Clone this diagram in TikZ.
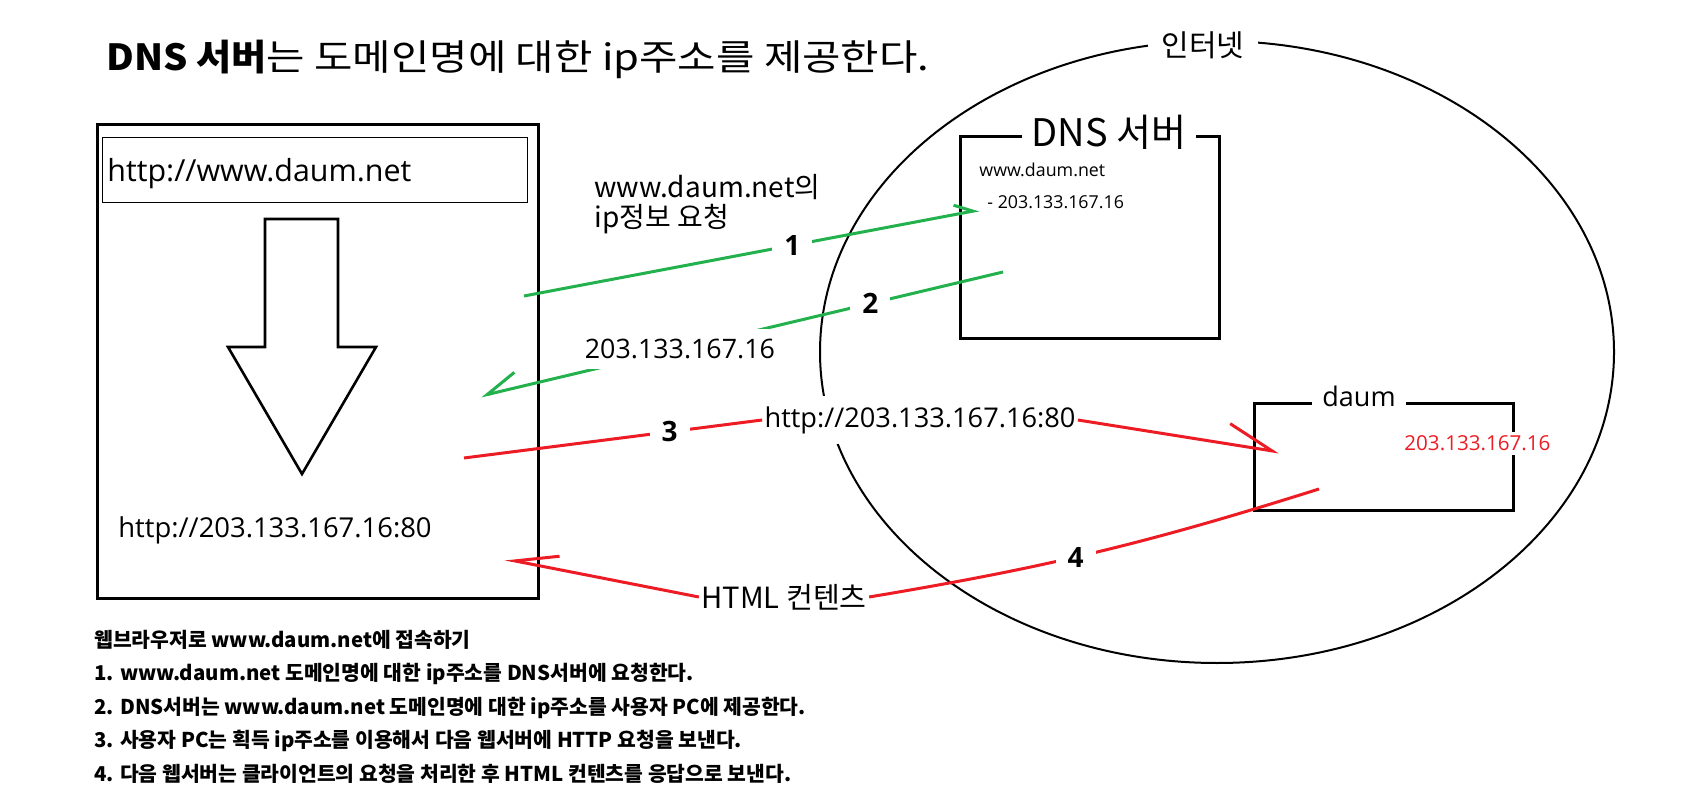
\documentclass[tikz,border=0pt]{standalone}
\usepackage{fontspec}
\setmainfont{Noto Sans CJK KR}
\newfontfamily\latin{Open Sans}
\usetikzlibrary{arrows.meta, positioning, shapes.geometric}
\definecolor{pgreen}{RGB}{34,177,76}
\definecolor{pred}{RGB}{237,28,36}
\begin{document}
\begin{tikzpicture}[x=0.5pt, y=-0.5pt,
  frame/.style={draw, line width=1.5pt, inner sep=0pt, anchor=north west},
  gap/.style={fill=white, inner xsep=5pt, inner ysep=1pt},
  txt/.style={anchor=base west, inner sep=0pt},
  num/.style={fill=white, inner xsep=6pt, inner ysep=1pt, font=\latin\bfseries\fontsize{14}{14}\selectfont},
  note/.style={anchor=base west, inner sep=0pt, font=\bfseries\fontsize{10.2}{12}\selectfont},
  gline/.style={draw=pgreen, line width=1.5pt},
  rline/.style={draw=pred, line width=1.5pt}]
\useasboundingbox (0,0) rectangle (1691,812);
\node[txt, font=\fontsize{18}{18}\selectfont] (title) at (106,71) {\textbf{\addfontfeature{FakeStretch=1.06}DNS 서버}{\addfontfeature{FakeStretch=1.16}는 도메인명에 대한 ip주소를 제공한다.}};
\node[frame, minimum width=220.5pt, minimum height=237pt] (browser) at (96,123) {};
\node[frame, line width=0.5pt, minimum width=212.5pt, minimum height=32.5pt] (urlbar) at (102,137) {};
\node[txt, font=\latin\fontsize{15.2}{15.2}\selectfont] (url) at (107,182) {http://www.daum.net};
\draw[line width=1.3pt] (265,219) -- (338,219) -- (338,347) -- (376,347) -- (302,474) -- (228,347) -- (265,347) -- cycle;
\node[txt, font=\latin\fontsize{13.7}{13.7}\selectfont] (ipurl) at (118,537) {http://203.133.167.16:80};
\node[draw, ellipse, line width=1pt, inner sep=0pt, minimum width=397pt, minimum height=311pt] (net) at (1217,352) {};
\node[gap, inner xsep=7pt, font=\fontsize{15}{15}\selectfont] (netlbl) at (1203,45) {인터넷};
\node[frame, minimum width=129.5pt, minimum height=101pt] (dns) at (959,135) {};
\node[gap, anchor=base, font=\fontsize{19}{19}\selectfont] (dnslbl) at (1109,147) {DNS 서버};
\node[txt, font=\latin\fontsize{8.9}{8.9}\selectfont] (dnsname) at (979,177) {www.daum.net};
\node[txt, font=\latin\fontsize{8.9}{8.9}\selectfont] (dnsip) at (987,209) {- 203.133.167.16};
\node[frame, minimum width=129.5pt, minimum height=53.5pt] (daum) at (1253,402) {};
\node[gap, anchor=base, font=\latin\fontsize{13.5}{13.5}\selectfont] (daumlbl) at (1359,407) {daum};
\node[txt, fill=white, inner ysep=2pt, text=pred, font=\latin\fontsize{10.3}{10.3}\selectfont] (daumip) at (1404,451) {203.133.167.16};
\node[txt, font=\fontsize{14}{14}\selectfont] (ask1) at (594,198) {www.daum.net의};
\node[txt, below=15pt of ask1.base west, anchor=base west, font=\fontsize{14}{14}\selectfont] (ask2) {ip정보 요청};
\coordinate (q1) at (524,296);
\coordinate (a1) at (979,210);
\draw[gline, -{Straight Barb[left, length=9pt, width=9.4pt]}] (q1) -- node[num, pos=0.59] (n1) {1} (a1);
\coordinate (q2) at (1003,272);
\coordinate (a2) at (481,396);
\draw[gline, -{Straight Barb[right, length=15.7pt, width=15.3pt]}] (q2) -- node[num, pos=0.254] (n2) {2} node[pos=0.619, fill=white, inner xsep=2pt, inner ysep=5pt, font=\latin\fontsize{13.4}{13.4}\selectfont] (ans) {203.133.167.16} (a2);
\node[fill=white, inner xsep=1pt, inner ysep=5pt, font=\latin\fontsize{13.6}{13.6}\selectfont] (req) at (920,420) {http://203.133.167.16:80};
\coordinate (q3) at (464,458);
\coordinate (a3) at (1279,452);
\draw[rline] (q3) -- node[num, pos=0.69] (n3) {3} (req.west);
\draw[rline, -{Straight Barb[left, length=22.8pt, width=20.3pt]}] (req.east) -- (a3);
\node[fill=white, inner xsep=1pt, inner ysep=2pt, font=\fontsize{14.6}{14.6}\selectfont] (html) at (784,597) {HTML 컨텐츠};
\coordinate (q4) at (1319,489);
\coordinate (a4) at (505,559);
\draw[rline] (q4) to[bend left=4] node[num, pos=0.55] (n4) {4} (html.east);
\draw[rline, -{Straight Barb[right, length=21.5pt, width=13.2pt]}] (html.west) -- (a4);
\node[note] (ln0) at (94,647) {웹브라우저로 www.daum.net에 접속하기};
\node[note, below=16.75pt of ln0.base west, anchor=base west] (ln1) {1. www.daum.net 도메인명에 대한 ip주소를 DNS서버에 요청한다.};
\node[note, below=16.75pt of ln1.base west, anchor=base west] (ln2) {2. DNS서버는 www.daum.net 도메인명에 대한 ip주소를 사용자 PC에 제공한다.};
\node[note, below=16.75pt of ln2.base west, anchor=base west] (ln3) {3. 사용자 PC는 획득 ip주소를 이용해서 다음 웹서버에 HTTP 요청을 보낸다.};
\node[note, below=16.75pt of ln3.base west, anchor=base west] (ln4) {4. 다음 웹서버는 클라이언트의 요청을 처리한 후 HTML 컨텐츠를 응답으로 보낸다.};
\end{tikzpicture}
\end{document}
